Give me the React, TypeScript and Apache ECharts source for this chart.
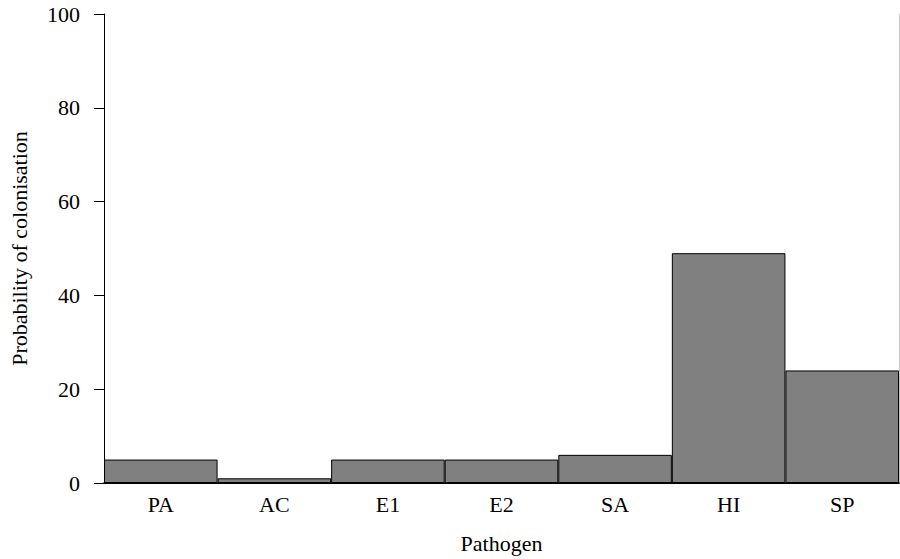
import React, { useEffect, useRef } from "react";
import * as echarts from "echarts";

const categories = ["PA", "AC", "E1", "E2", "SA", "HI", "SP"];
const values = [5, 1, 5, 5, 6, 49, 24];
const yTicks = [0, 20, 40, 60, 80, 100];

export default function App() {
  const ref = useRef<HTMLDivElement>(null);
  useEffect(() => {
    document.body.style.margin = "0";
    const chart = echarts.init(ref.current!, undefined, { renderer: "svg" });
    const font = "'Liberation Serif', 'Times New Roman', serif";
    chart.setOption({
      animation: false,
      backgroundColor: "#ffffff",
      textStyle: { fontFamily: font },
      grid: { left: 103, right: 1, top: 14, bottom: 76, containLabel: false },
      xAxis: [
        {
          type: "category",
          data: categories,
          name: "Pathogen",
          nameLocation: "middle",
          nameGap: 49,
          nameTextStyle: { fontFamily: font, fontSize: 22, color: "#000" },
          axisLine: { lineStyle: { color: "#000", width: 1 } },
          axisTick: { show: false },
          axisLabel: { fontFamily: font, fontSize: 22, color: "#000", margin: 10 },
        },
        {
          type: "category",
          position: "top",
          data: categories,
          axisLine: { show: true, lineStyle: { color: "#000", width: 1.5 } },
          axisTick: { show: false },
          axisLabel: { show: false },
        },
      ],
      yAxis: [
        {
          type: "value",
          min: yTicks[0],
          max: yTicks[yTicks.length - 1],
          interval: 20,
          name: "Probability of colonisation",
          nameLocation: "middle",
          nameGap: 74,
          nameTextStyle: { fontFamily: font, fontSize: 22, color: "#000" },
          axisLine: { show: true, lineStyle: { color: "#000", width: 1 } },
          axisTick: { show: true, inside: false, length: 10, lineStyle: { color: "#000" } },
          axisLabel: { fontFamily: font, fontSize: 22, color: "#000", margin: 24 },
          splitLine: { show: false },
        },
        {
          type: "value",
          position: "right",
          min: 0,
          max: 100,
          interval: 20,
          axisLine: { show: true, lineStyle: { color: "#c8c8c8", width: 1 } },
          axisTick: { show: false },
          axisLabel: { show: false },
          splitLine: { show: false },
        },
      ],
      series: [
        {
          type: "bar",
          data: values,
          barCategoryGap: "0%",
          itemStyle: { color: "#808080", borderColor: "#000", borderWidth: 1 },
        },
      ],
    });
    return () => chart.dispose();
  }, []);
  return <div ref={ref} style={{ position: "absolute", left: 0, top: 0, width: 900, height: 559 }} />;
}
